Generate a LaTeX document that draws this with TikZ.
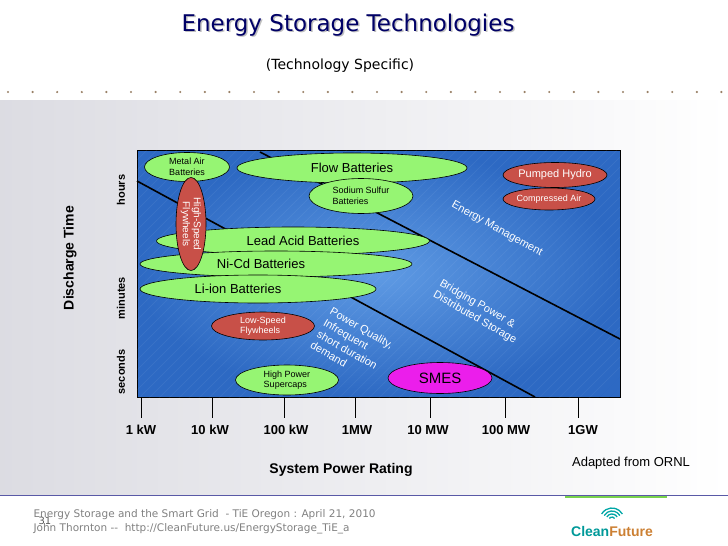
\documentclass[tikz,border=0pt]{standalone}
\usepackage{fontspec}
\setmainfont{Liberation Sans}
\newfontfamily\verd{DejaVu Sans}
\usetikzlibrary{shapes.geometric}
\definecolor{pblue}{RGB}{95,155,228}
\definecolor{pblueo}{RGB}{45,105,195}
\definecolor{egreen}{RGB}{150,245,115}
\definecolor{ered}{RGB}{200,80,72}
\definecolor{emag}{RGB}{235,30,235}
\begin{document}
\begin{tikzpicture}[x=1pt,y=-1pt,
  ell/.style={ellipse,draw=black,line width=0.6pt,inner sep=0pt,align=center},
  gr/.style={ell,fill=egreen,font=\fontsize{9}{10.5}\selectfont},
  rd/.style={ell,fill=ered,text=white,font=\fontsize{9}{10.5}\selectfont},
  rot/.style={text=white,align=left,font=\fontsize{11}{13}\selectfont},
  tick/.style={font=\bfseries\fontsize{13}{13}\selectfont},
  ylab/.style={rotate=90,font=\bfseries\fontsize{11}{11}\selectfont}]
\useasboundingbox (0,0) rectangle (728,546);
\shade[left color=blue!10!gray!25,right color=white] (0,100) rectangle (728,495);
\draw[blue!30!gray,line width=1pt] (0,495.5) -- (728,495.5);
\draw[green!50!olive!70,line width=1.5pt] (565,497) -- (667,497);
% title
\node[font=\verd\fontsize{23}{23}\selectfont,text=gray!50] (tsh) at (349.5,26.5) {Energy Storage Technologies};
\node[font=\verd\fontsize{23}{23}\selectfont,text=blue!40!black] (title) at (348,25) {Energy Storage Technologies};
\node[font=\verd\fontsize{14}{14}\selectfont] (sub) at (340,66) {(Technology Specific)};
\foreach \i in {0,...,29} \fill[brown!40!gray] (8+24.6*\i,92) circle (1.2pt);
% plot
\shade[inner color=pblue,outer color=pblueo,draw=black] (137,150) rectangle (620,397);
\begin{scope}
\clip (137,150) rectangle (620,397);
\foreach \i in {0,...,70} \draw[white,opacity=0.08,line width=0.6pt] (137+10*\i,150) -- ++(-260,260);
\end{scope}
\draw[line width=1.6pt] (137,181) -- (535,397);
\draw[line width=1.6pt] (260,152) -- (620,339);
% axis ticks
\foreach \x in {141,212,284,355,430,505,578} \draw[line width=1pt] (\x,397) -- (\x,418);
\node[tick] (t1) at (141,430) {1 kW};
\node[tick] (t2) at (210,430) {10 kW};
\node[tick] (t3) at (286,430) {100 kW};
\node[tick] (t4) at (357,430) {1MW};
\node[tick] (t5) at (428,430) {10 MW};
\node[tick] (t6) at (506,430) {100 MW};
\node[tick] (t7) at (583,430) {1GW};
\node[font=\bfseries\fontsize{14}{14}\selectfont] (xl) at (341,470) {System Power Rating};
\node[font=\fontsize{13}{13}\selectfont] (src) at (631,463) {Adapted from ORNL};
\node[ylab] (h) at (121,190) {hours};
\node[ylab] (m) at (121,298) {minutes};
\node[ylab] (s) at (121,372) {seconds};
\node[rotate=90,font=\bfseries\fontsize{14}{14}\selectfont] (yl) at (70,258) {Discharge Time};
% rotated labels
\node[rot,rotate=-29] (em) at (497,229) {Energy Management};
\node[rot,rotate=-30] (bp) at (478,312) {Bridging Power \&\\Distributed Storage};
\node[rot,rotate=-30] (pq) at (352,345) {Power Quality,\\Infrequent\\short duration\\demand};
% ellipses
\node[gr,minimum width=85pt,minimum height=29pt,align=left] (ma) at (187,167) {Metal Air\\Batteries};
\node[gr,minimum width=230pt,minimum height=30pt,font=\fontsize{13}{13}\selectfont] (fb) at (352,168) {Flow Batteries};
\node[gr,minimum width=104pt,minimum height=35pt,align=left] (ns) at (361,196) {Sodium Sulfur\\Batteries};
\node[gr,minimum width=273pt,minimum height=28pt,font=\fontsize{13}{13}\selectfont] (la) at (293,241) {\hspace*{20pt}Lead Acid Batteries};
\node[gr,minimum width=272pt,minimum height=26pt,font=\fontsize{13}{13}\selectfont] (nc) at (276,264) {\hspace*{-30pt}Ni-Cd Batteries};
\node[rd,minimum width=93pt,minimum height=30pt,rotate=-90,font=\fontsize{10}{11}\selectfont] (hs) at (191,224) {High-Speed\\Flywheels};
\node[gr,minimum width=236pt,minimum height=28pt,font=\fontsize{13}{13}\selectfont] (li) at (258,289) {\hspace*{-40pt}Li-ion Batteries};
\node[rd,minimum width=103pt,minimum height=28pt,align=left] (ls) at (263,326) {Low-Speed\\Flywheels};
\node[gr,minimum width=103pt,minimum height=30pt,align=left] (hp) at (287,380) {High Power\\Supercaps};
\node[ell,fill=emag,minimum width=104pt,minimum height=31pt,font=\fontsize{15}{15}\selectfont] (sm) at (440,378) {SMES};
\node[rd,minimum width=104pt,minimum height=25pt,font=\fontsize{11}{11}\selectfont] (ph) at (555,175) {Pumped Hydro};
\node[rd,minimum width=92pt,minimum height=22pt] (ca) at (549,199) {Compressed Air};
% footer
\node[anchor=west,align=left,text=gray,font=\verd\fontsize{10.5}{14}\selectfont] (ft) at (30,522) {Energy Storage and the Smart Grid\ \ - TiE Oregon : April 21, 2010\\John Thornton --\ \ http://CleanFuture.us/EnergyStorage\_TiE\_a};
\node[text=gray!70!black,font=\verd\fontsize{10}{10}\selectfont] (pg) at (45,521) {31};
\node[font=\bfseries\fontsize{14}{14}\selectfont,inner sep=0] (logo) at (612,531) {\textcolor{teal!80!cyan}{Clean}\textcolor{brown!80!orange}{Future}};
\foreach \r in {3,6,9,12} \draw[teal!70!cyan,line width=1.3pt] (612,520) ++(30:\r pt) arc[start angle=30,end angle=150,radius=\r pt];
\end{tikzpicture}
\end{document}
